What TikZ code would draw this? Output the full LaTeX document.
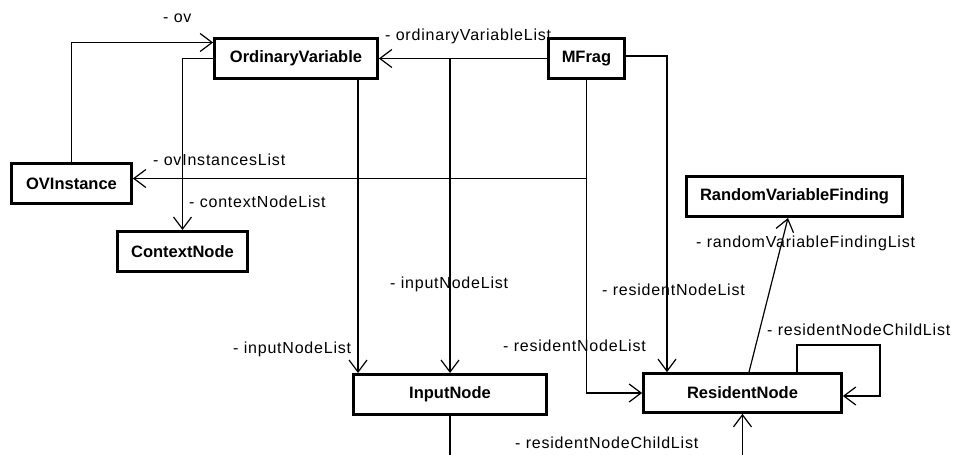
\documentclass[tikz,border=0pt]{standalone}
\usepackage{fontspec}
\setmainfont{Liberation Sans}
\newfontfamily\rolefamily[LetterSpace=5]{Liberation Sans}
\usepackage{tikz}
\usetikzlibrary{arrows.meta, calc}
\usepackage{xcolor}
\definecolor{umlline}{RGB}{0, 0, 0}
\definecolor{umlbg}{RGB}{255, 255, 255}
\newcommand{\clsfont}{\fontsize{16.5}{19}\selectfont\bfseries}
\newcommand{\rolefont}{\rolefamily\fontsize{16}{19}\selectfont}
\tikzset{
  cls/.style     = {rectangle, draw=umlline, line width=2.8pt, fill=umlbg, minimum height=40.2pt, align=center, font=\clsfont},
  assoc/.style   = {-{Straight Barb[length=12pt, width=18pt]}, line width=1.2pt, umlline},
  rolelbl/.style = {anchor=base west, inner sep=0pt, font=\rolefont},
}

\begin{document}
\begin{tikzpicture}[x=1pt, y=-1pt]
  % 画布
  \useasboundingbox (0,0) rectangle (954,455);
  \clip (0,0) rectangle (954,455);
  \fill[umlbg] (0,0) rectangle (954,455);

  % 类
  \node[cls, minimum width=163pt] (ov)  at (296,58.5)   {OrdinaryVariable};
  \node[cls, minimum width=76pt]  (mf)  at (586.5,58.5) {MFrag};
  \node[cls, minimum width=120pt] (ovi) at (71.5,183.5) {OVInstance};
  \node[cls, minimum width=130pt] (ctx) at (182.5,251.5) {ContextNode};
  \node[cls, minimum width=216pt] (rvf) at (794.5,196.5) {RandomVariableFinding};
  \node[cls, minimum width=193pt] (in)  at (450,394.5)  {InputNode};
  \node[cls, minimum width=198pt, minimum height=39pt] (rn) at (742.5,393) {ResidentNode};

  % OrdinaryVariable 的关联
  \draw[assoc] (ovi.north) |- ([yshift=16pt]ov.west);
  \draw[assoc] (ov.west) -| (ctx.north);
  \draw[assoc] ([xshift=62pt]ov.south) -- ([xshift=62pt]ov.south |- in.north);

  % MFrag 的关联
  \draw[assoc] (mf.west) -- (ov.east);
  \draw[assoc] (mf.west) -| (in.north);
  \draw[assoc] (mf.south) |- ([yshift=5pt]ovi.east);
  \draw[assoc] (mf.south) |- (rn.west);
  \draw[assoc] ([yshift=2.5pt]mf.east) -| ([xshift=-75.5pt]rn.north);

  % ResidentNode 的关联
  \draw[assoc] ([xshift=6.5pt]rn.north) -- ([xshift=-6.5pt]rvf.south);
  \coordinate (loop) at (880,345);
  \draw[assoc] ([xshift=54.5pt]rn.north) |- (loop) |- ([yshift=-3pt]rn.east);
  \draw[assoc] (in.south) -- (in.south |- 0,470) -| (rn.south);

  % 角色名
  \node[rolelbl] (l-ov)    at (163,23)  {- ov};
  \node[rolelbl] (l-ovl)   at (385,40)  {- ordinaryVariableList};
  \node[rolelbl] (l-ovil)  at (153,165) {- ovInstancesList};
  \node[rolelbl] (l-ctxl)  at (189,207) {- contextNodeList};
  \node[rolelbl] (l-inl1)  at (233,353) {- inputNodeList};
  \node[rolelbl] (l-inl2)  at (390,288) {- inputNodeList};
  \node[rolelbl] (l-rnl1)  at (602,295) {- residentNodeList};
  \node[rolelbl] (l-rnl2)  at (503,351) {- residentNodeList};
  \node[rolelbl] (l-rvfl)  at (696,247) {- randomVariableFindingList};
  \node[rolelbl] (l-rncl1) at (767,335) {- residentNodeChildList};
  \node[rolelbl] (l-rncl2) at (515,448) {- residentNodeChildList};

\end{tikzpicture}
\end{document}
